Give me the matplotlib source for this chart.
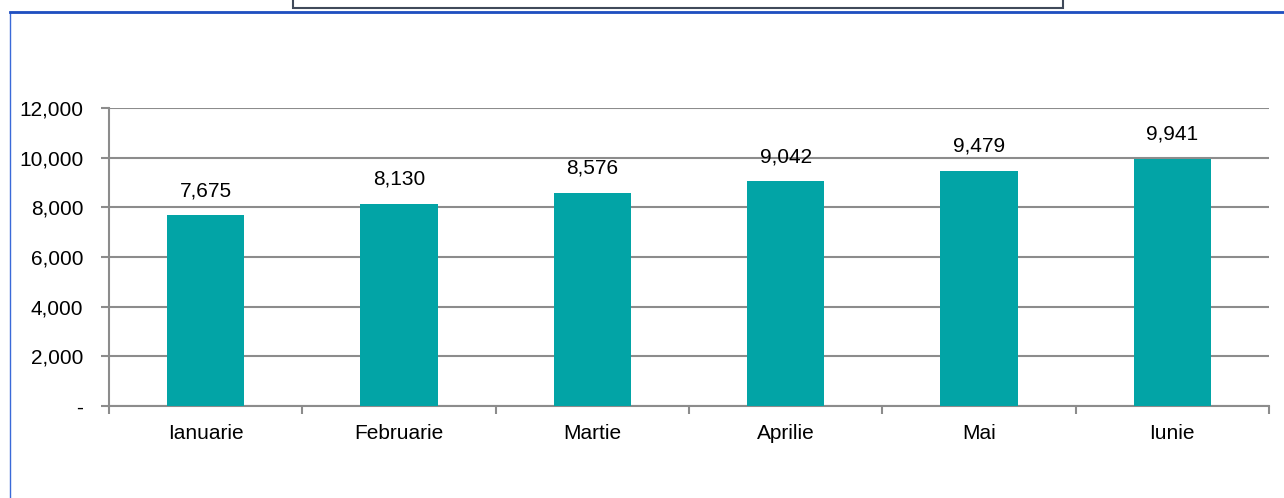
import numpy as np
import matplotlib.pyplot as plt
from matplotlib.patches import Rectangle
from matplotlib.lines import Line2D
from matplotlib.ticker import FuncFormatter, FixedLocator

plt.rcParams['font.family'] = ['Liberation Sans', 'DejaVu Sans']

# data
months = ['Ianuarie', 'Februarie', 'Martie', 'Aprilie', 'Mai', 'Iunie']
values = [7675, 8130, 8576, 9042, 9479, 9941]
yticks = [0, 2000, 4000, 6000, 8000, 10000, 12000]

bar_col = '#02a4a6'
grid_col = '#8c8c8c'

fig = plt.figure(figsize=(12.84, 4.98), dpi=100)
ax = fig.add_axes([109/1284, 1 - 406/498, 1160/1284, 298/498])

x = np.arange(len(months))
ax.bar(x, values, width=0.4, color=bar_col, zorder=3)

for xi, v in zip(x, values):
    ax.annotate(f'{v:,}', (xi, v), xytext=(0, 11), textcoords='offset points',
                ha='center', va='bottom', fontsize=15)

ax.set_xlim(-0.5, len(months) - 0.5)
ax.set_ylim(0, 12000)
ax.set_yticks(yticks)
ax.yaxis.set_major_formatter(FuncFormatter(lambda v, p: '-' if v == 0 else f'{int(v):,}'))
ax.set_xticks(x)
ax.set_xticklabels(months)
ax.xaxis.set_minor_locator(FixedLocator(np.arange(len(months) + 1) - 0.5))

ax.tick_params(axis='x', which='major', length=0, labelsize=15, pad=13)
ax.tick_params(axis='x', which='minor', length=6, width=1.5, color=grid_col)
ax.tick_params(axis='y', length=6, width=1.5, color=grid_col, labelsize=15, pad=12.5)

ax.grid(axis='y', color=grid_col, linewidth=1.5, zorder=0)
for s in ['top', 'right']:
    ax.spines[s].set_visible(False)
for s in ['left', 'bottom']:
    ax.spines[s].set_color(grid_col)
    ax.spines[s].set_linewidth(1.5)
ax.set_axisbelow(True)

# outer chart frame (blue) and title box at top
fig.patches.append(Rectangle((10/1284, -0.1), 1.2, 1.1 - 12.5/498,
                             transform=fig.transFigure, fill=False,
                             edgecolor='#3a6ad8', linewidth=1.0))
fig.lines.append(Line2D([10/1284, 1], [1 - 12.5/498] * 2, transform=fig.transFigure,
                        color='#1f4fc0', linewidth=2.0))
fig.patches.append(Rectangle((293/1284, 1 - 8/498), 770/1284, 0.1,
                             transform=fig.transFigure, facecolor='white',
                             edgecolor='#404a5a', linewidth=1.5))

fig.savefig('out.png', dpi=100)
